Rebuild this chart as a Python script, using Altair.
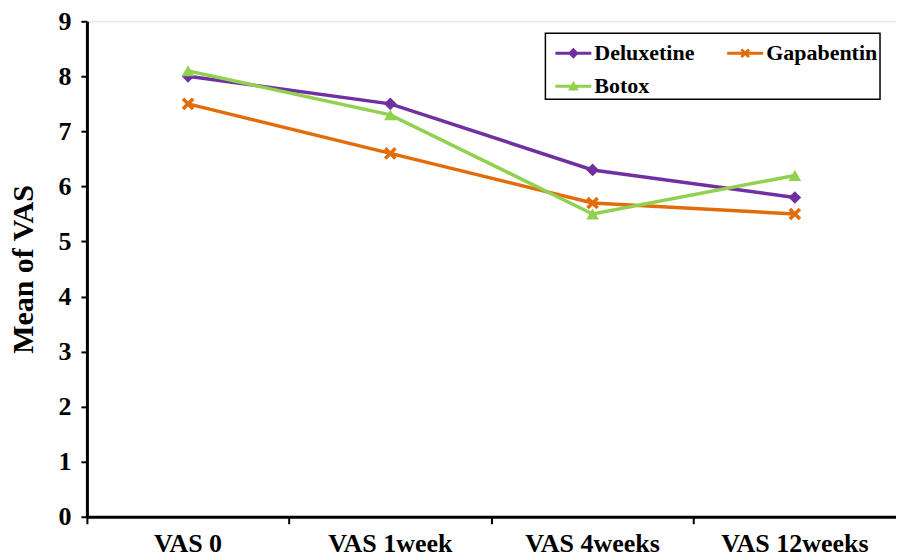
import altair as alt
import pandas as pd

categories = ["VAS 0", "VAS 1week", "VAS 4weeks", "VAS 12weeks"]
series_names = ["Deluxetine", "Gapabentin", "Botox"]
deluxetine = [8.0, 7.5, 6.3, 5.8]
gapabentin = [7.5, 6.6, 5.7, 5.5]
botox = [8.1, 7.3, 5.5, 6.2]
colors = ["#7030A0", "#E36C0A", "#92D050"]

rows = []
for name, vals in zip(series_names, [deluxetine, gapabentin, botox]):
    for c, v in zip(categories, vals):
        rows.append({"time": c, "series": name, "value": v})
df = pd.DataFrame(rows)

FONT = "Liberation Serif"

# marker shapes
xshape = "M-1,-0.6L-0.6,-1L0,-0.4L0.6,-1L1,-0.6L0.4,0L1,0.6L0.6,1L0,0.4L-0.6,1L-1,0.6L-0.4,0Z"
# legend symbols: short line with the marker in the middle
bar = "M-1,-0.08L1,-0.08L1,0.08L-1,0.08Z"
leg_diamond = bar + "M0,-0.3L0.3,0L0,0.3L-0.3,0Z"
leg_x = bar + ("M-0.27,-0.16L-0.16,-0.27L0,-0.11L0.16,-0.27L0.27,-0.16L0.11,0L0.27,0.16"
               "L0.16,0.27L0,0.11L-0.16,0.27L-0.27,0.16L-0.11,0Z")
leg_tri = bar + "M0,-0.3L0.3,0.24L-0.3,0.24Z"

x = alt.X("time:N", sort=categories, title=None,
          scale=alt.Scale(type="band", domain=categories, paddingInner=0, paddingOuter=0),
          axis=alt.Axis(labelAngle=0, bandPosition=0, labelPadding=7, tickSize=7,
                        labelFontSize=26))
y = alt.Y("value:Q", title="Mean of VAS",
          scale=alt.Scale(domain=[0, 9], nice=False),
          axis=alt.Axis(values=list(range(10)), grid=False, labelPadding=10, tickSize=6,
                        labelFontSize=26, titlePadding=19))

col_scale = alt.Scale(domain=series_names, range=colors)
leg = alt.Legend(title=None, orient="none", legendX=459, legendY=12,
                 columns=2, direction="horizontal")

lines = alt.Chart(df).mark_line(strokeWidth=3.5).encode(
    x=x, y=y, color=alt.Color("series:N", scale=col_scale, legend=None), detail="series:N")
points = alt.Chart(df).mark_point(filled=True, size=160, opacity=1).encode(
    x=x, y=y,
    color=alt.Color("series:N", scale=col_scale, legend=None),
    shape=alt.Shape("series:N", scale=alt.Scale(domain=series_names,
                                                range=["diamond", xshape, "triangle-up"]),
                    legend=None))
legend_layer = alt.Chart(df).transform_filter("false").mark_point(
    filled=True, opacity=1).encode(
    x=x, y=y,
    color=alt.Color("series:N", scale=col_scale, legend=leg),
    shape=alt.Shape("series:N", scale=alt.Scale(domain=series_names,
                                                range=[leg_diamond, leg_x, leg_tri]),
                    legend=leg))

chart = alt.layer(lines, points, legend_layer).resolve_scale(
    color="independent", shape="independent"
).properties(
    width=810, height=496,
    autosize=alt.AutoSizeParams(type="none"),
    padding={"left": 79, "top": 13, "right": 0, "bottom": 42},
).configure_view(stroke="black", strokeWidth=3).configure(
    background="white"
).configure_axis(
    labelFont=FONT, labelFontWeight="bold", labelColor="black",
    tickColor="black", tickWidth=2, domainColor="black", domainWidth=3,
    titleFont=FONT, titleFontSize=30, titleFontWeight="bold", titleColor="black",
).configure_legend(
    labelFont=FONT, labelFontSize=22, labelFontWeight="bold", labelColor="black",
    strokeColor="black", strokeWidth=1.5, padding=2, columnPadding=24, rowPadding=4,
    symbolSize=1296, symbolStrokeWidth=0, symbolOffset=8, labelOffset=3,
    fillColor="white", labelLimit=300,
)

chart.save("out.html", embed_options={"renderer": "svg", "actions": False})
